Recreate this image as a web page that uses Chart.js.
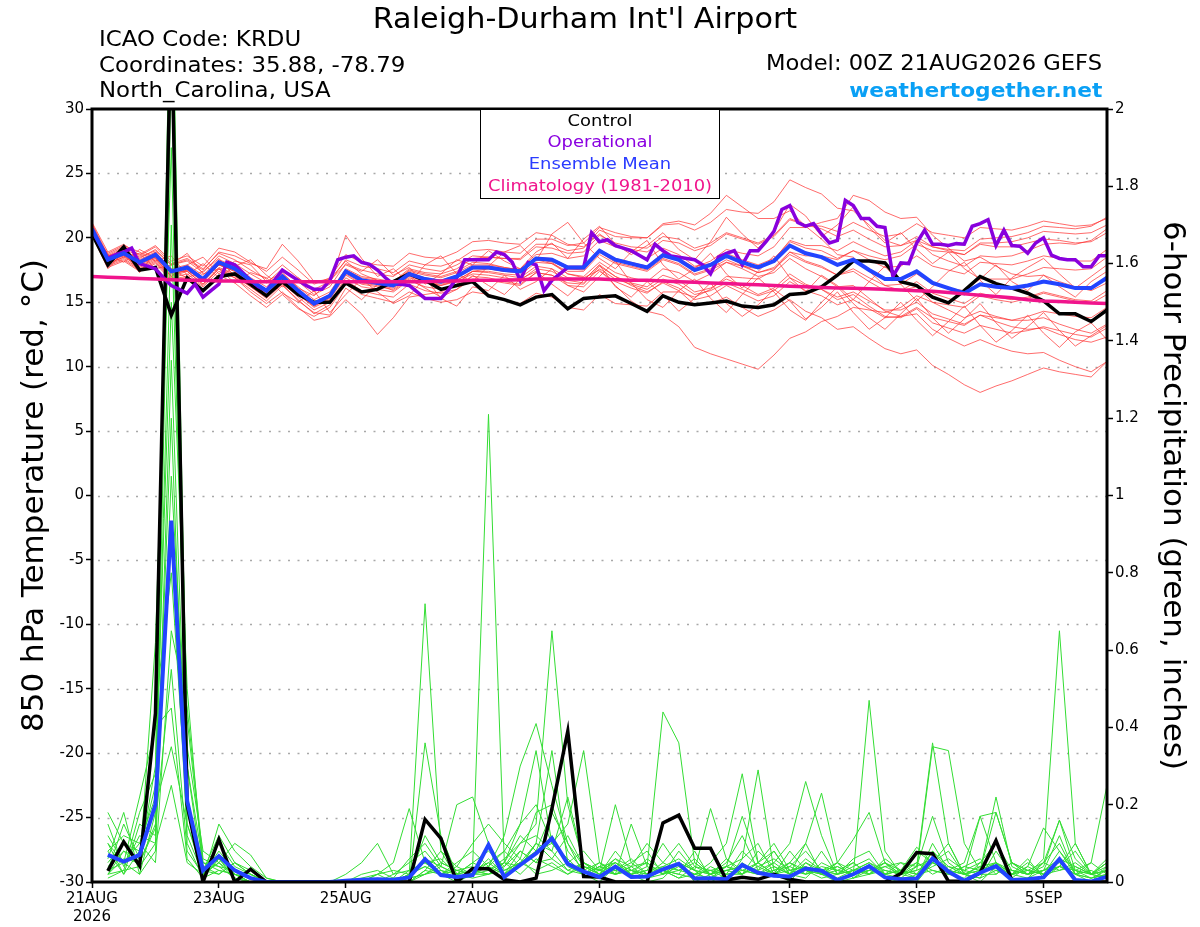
<!DOCTYPE html>
<html>
<head>
<meta charset="utf-8">
<script src="https://cdn.jsdelivr.net/npm/chart.js@4.4.1/dist/chart.umd.min.js"></script>
<style>
html,body{margin:0;padding:0;background:#fff;}
#wrap{position:relative;width:1200px;height:927px;overflow:hidden;}
#c{position:absolute;left:0;top:0;}
.t{position:absolute;font-family:'DejaVu Sans',sans-serif;line-height:1;white-space:nowrap;color:#000;}
#title{left:585px;top:5px;font-size:28px;transform:translateX(-50%) scaleX(1.08);}
.info{left:99px;font-size:21px;transform-origin:left center;transform:scaleX(1.09);}
#model{right:98px;top:53px;font-size:21px;transform-origin:right center;transform:scaleX(1.077);}
#site{right:98px;top:80px;font-size:20px;font-weight:bold;color:#0aa0f5;transform-origin:right center;transform:scaleX(1.085);}
#leg{position:absolute;left:480px;top:109px;width:240px;height:90px;border:1.5px solid #000;background:#fff;box-sizing:border-box;}
#leg div{position:absolute;left:0;width:100%;text-align:center;font-family:'DejaVu Sans',sans-serif;font-size:16px;line-height:1;white-space:nowrap;transform:scaleX(1.12);}
</style>
</head>
<body>
<div id="wrap">
<canvas id="c" width="1200" height="927"></canvas>
<div class="t" id="title">Raleigh-Durham Int'l Airport</div>
<div class="t info" style="top:29px">ICAO Code: KRDU</div>
<div class="t info" style="top:55px">Coordinates: 35.88, -78.79</div>
<div class="t info" style="top:80px">North_Carolina, USA</div>
<div class="t" id="model">Model: 00Z 21AUG2026 GEFS</div>
<div class="t" id="site">weathertogether.net</div>
<div id="leg">
  <div style="top:3px;color:#000">Control</div>
  <div style="top:24px;color:#8a00e0">Operational</div>
  <div style="top:45.5px;color:#2a3cff">Ensemble Mean</div>
  <div style="top:68px;color:#f0148c">Climatology (1981-2010)</div>
</div>
</div>
<script>
// ---------- tick labels ----------
const tickHours = [0, 48, 96, 144, 192, 264, 312, 360];
const tickLabels = [['21AUG','2026'], '23AUG', '25AUG', '27AUG', '29AUG', '1SEP', '3SEP', '5SEP'];

// ---------- 850 hPa temperature (6-hourly, 00Z 21AUG .. 00Z 6SEP) ----------
const controlTemp = [
20.3,17.9,19.3,17.5,17.7,14.0,16.9,15.9,17.0,17.2,
16.4,15.5,16.6,15.6,15.0,15.0,16.5,15.8,16.0,16.6,
17.2,16.7,16.0,16.3,16.6,15.5,15.2,14.8,15.4,15.6,
14.5,15.3,15.4,15.5,14.9,14.3,15.5,15.0,14.8,14.95,
15.1,14.7,14.6,14.8,15.6,15.7,16.2,17.1,18.2,18.2,
18.05,16.6,16.3,15.4,14.95,15.9,17.0,16.45,16.1,15.7,
15.1,14.1,14.1,13.5,14.4];
const meanTemp = [
20.7,18.3,18.8,18.1,18.7,17.4,17.7,16.8,18.1,17.6,
16.7,15.9,17.0,15.9,14.9,15.5,17.4,16.7,16.5,16.3,
17.2,16.8,16.6,17.0,17.7,17.7,17.5,17.4,18.4,18.3,
17.7,17.7,19.0,18.3,18.0,17.7,18.65,18.3,17.5,17.9,
18.6,18.1,17.7,18.2,19.4,18.8,18.5,17.9,18.3,17.5,
16.8,16.8,17.4,16.5,16.1,15.7,16.4,16.2,16.1,16.3,
16.6,16.4,16.1,16.1,16.9];
const climoTemp = [
17.0,16.95,16.9,16.85,16.8,16.75,16.7,16.7,16.65,16.65,
16.6,16.6,16.6,16.6,16.6,16.6,16.6,16.6,16.6,16.6,
16.6,16.6,16.65,16.65,16.7,16.7,16.7,16.75,16.8,16.8,
16.8,16.8,16.8,16.75,16.7,16.7,16.65,16.6,16.55,16.5,
16.45,16.4,16.35,16.3,16.25,16.2,16.15,16.1,16.08,16.05,
16.0,15.95,15.9,15.85,15.75,15.65,15.55,15.45,15.35,15.2,
15.1,15.05,15.0,14.95,14.9];
// operational run, 3-hourly
const operTemp = [
20.6,19.5,18.4,18.7,18.9,19.2,18.0,17.8,17.6,16.9,
16.3,16.0,15.7,16.4,15.4,15.9,16.4,18.1,17.9,17.3,
16.7,16.2,15.9,16.7,17.5,17.1,16.7,16.3,16.0,16.0,
16.7,18.3,18.5,18.6,18.1,17.95,17.5,16.9,16.4,16.4,
16.3,15.8,15.3,15.3,15.3,16.0,16.9,18.3,18.3,18.3,
18.3,18.9,18.7,18.1,16.7,18.1,17.9,15.9,16.7,17.2,
17.7,17.7,17.7,20.4,
19.7,19.85,19.4,19.2,19.0,18.65,18.3,19.5,19.0,18.6,
18.5,18.4,18.3,17.9,17.2,18.5,18.8,19.0,17.9,19.0,
19.0,19.7,20.5,22.2,22.5,21.2,20.9,21.1,20.3,19.6,
19.8,22.9,22.5,21.5,21.5,20.9,20.8,17.0,18.05,18.0,
19.6,20.6,19.5,19.5,19.4,19.55,19.5,20.9,21.1,21.4,
19.4,20.6,19.4,19.35,18.8,19.6,20.0,18.65,18.4,18.3,
18.3,17.75,17.75,18.6,18.6];

// ensemble members (temperature)
const memTemp01 = [20.9,18.6,19.2,18.5,19.0,17.9,18.2,17.3,18.6,18.0,17.2,16.5,17.6,16.6,15.6,16.2,18.0,17.5,17.2,17.0,17.9,17.6,17.4,17.9,18.6,18.5,18.4,18.3,19.3,19.2,18.8,18.9,20.2,19.6,19.3,19.2,20.1,19.9,19.2,19.6,20.4,20.0,19.6,20.2,21.5,21.0,20.7,20.1,20.6,19.9,19.3,19.4,20.1,19.3,19.0,18.7,19.5,19.3,19.3,19.6,19.9,19.8,19.6,19.7,20.4];
const memTemp02 = [20.3,17.8,18.3,17.5,18.1,16.8,17.0,16.2,17.4,16.9,16.0,15.1,16.3,15.2,14.1,14.8,16.7,15.9,15.6,15.4,16.4,15.9,15.7,16.0,16.8,16.7,16.5,16.3,17.3,17.1,16.5,16.4,17.8,17.0,16.5,16.2,17.1,16.7,15.8,16.1,16.8,16.3,15.6,16.1,17.2,16.4,16.0,15.2,15.6,14.7,13.9,13.8,14.5,13.4,13.0,12.6,13.2,12.9,12.6,12.8,13.1,12.8,12.5,12.3,13.0];
const memTemp03 = [21.2,18.9,19.5,18.6,19.3,18.0,18.4,17.6,18.8,18.3,17.5,16.8,17.9,16.9,16.0,16.6,18.3,17.8,17.6,17.3,18.2,17.9,17.8,18.2,19.0,19.1,18.9,18.8,19.9,19.9,19.4,19.6,20.8,20.4,20.1,20.0,21.0,21.1,20.6,21.2,22.2,22.0,21.9,22.8,24.5,23.9,23.4,22.3,22.1,21.0,19.8,19.4,19.8,18.7,18.2,17.8,18.6,18.5,18.6,19.0,19.5,19.6,19.5,19.8,20.7];
const memTemp04 = [20.5,18.1,18.6,17.9,18.5,17.2,17.5,16.6,17.9,17.4,16.5,15.7,16.8,15.7,14.7,15.3,17.2,16.5,16.3,16.1,17.0,16.6,16.4,16.7,17.4,17.3,17.1,16.9,17.8,17.6,16.9,16.7,17.9,17.0,16.3,15.8,16.5,15.9,14.8,14.9,15.4,14.6,13.9,14.4,15.2,14.3,13.8,12.9,13.1,12.2,11.4,11.0,11.3,10.1,9.4,8.6,8.0,8.5,8.9,9.4,9.9,9.6,9.4,9.2,10.4];
const memTemp05 = [20.8,18.4,18.9,18.3,18.9,17.6,17.9,17.1,18.3,17.8,16.9,16.2,17.2,16.2,15.2,15.8,17.6,17.0,16.8,16.6,17.4,17.1,16.9,17.3,17.9,17.9,17.7,17.5,18.4,18.1,17.2,16.9,17.5,16.3,15.1,14.3,14.0,13.1,11.5,11.0,10.6,10.2,9.8,10.9,12.2,12.7,13.5,13.9,14.6,14.4,14.2,14.6,15.5,15.0,14.8,14.6,15.5,15.2,15.0,15.3,15.7,15.4,15.1,14.9,15.6];
const memTemp06 = [20.6,18.2,18.7,18.0,18.6,17.3,17.4,16.4,17.6,16.9,15.8,14.9,15.8,14.6,13.6,13.9,15.2,14.1,12.5,13.8,15.4,15.6,15.8,16.4,17.4,17.6,17.6,17.6,18.7,18.8,18.4,18.6,19.8,19.3,19.1,18.9,19.8,19.6,19.0,19.4,20.3,19.9,19.5,20.1,21.4,21.0,20.9,20.5,21.2,20.6,20.1,20.3,21.1,20.4,20.2,20.0,20.8,20.7,20.6,20.9,21.3,21.1,20.9,21.0,21.5];
const memTemp07 = [21.0,18.5,19.0,18.4,19.1,17.9,18.3,17.5,18.9,18.6,18.0,17.6,19.5,18.2,16.6,16.8,18.2,17.2,16.7,16.4,17.1,16.6,16.3,16.6,17.2,17.1,16.9,16.7,17.6,17.4,16.7,16.5,17.6,16.8,16.4,16.0,16.8,16.4,15.6,15.9,16.5,16.0,15.5,15.9,16.9,16.3,16.0,15.4,15.8,15.1,14.4,14.4,15.0,14.1,13.7,13.3,14.0,13.8,13.6,13.9,14.3,14.1,13.9,13.8,14.6];
const memTemp08 = [20.4,18.0,18.5,17.8,18.4,17.1,17.5,16.7,17.9,17.5,16.6,15.8,16.9,15.9,14.9,15.6,17.5,16.9,16.7,16.6,17.6,17.3,17.2,17.6,18.4,18.5,18.4,18.4,19.5,19.5,19.0,19.2,20.6,20.1,20.0,20.0,21.1,21.3,21.0,21.9,23.3,22.4,21.5,21.5,22.1,20.9,19.9,18.7,18.5,17.4,16.3,15.9,16.2,15.0,14.4,13.8,14.3,13.9,13.6,13.6,13.8,13.3,12.9,12.6,13.3];
const memTemp09 = [20.7,18.4,18.9,18.2,18.8,17.5,17.8,16.9,18.2,17.7,16.8,16.0,17.1,16.0,15.0,15.6,17.5,16.8,16.6,16.4,17.3,16.9,16.7,17.1,17.8,17.8,17.6,17.5,18.5,18.4,17.8,17.8,19.1,18.4,18.1,17.8,18.8,18.4,17.6,18.0,18.8,18.3,17.9,18.4,19.7,19.2,19.0,18.4,19.0,18.3,17.7,17.8,18.6,17.8,17.5,17.2,18.1,18.0,17.9,18.2,18.6,18.4,18.2,18.2,19.1];
const memTemp10 = [20.2,17.7,18.2,17.4,18.0,16.7,16.9,15.9,17.1,16.5,15.5,14.6,15.6,14.5,13.9,14.6,16.4,15.6,15.3,15.0,15.8,15.3,15.0,15.2,15.8,15.6,15.2,14.9,15.7,15.4,14.6,14.4,15.6,14.9,14.8,14.7,15.8,15.8,15.4,16.0,17.0,16.9,16.8,17.5,18.9,18.6,18.6,18.3,19.0,18.6,18.3,18.6,19.5,19.0,18.9,18.7,19.6,19.6,19.7,20.0,20.5,20.4,20.3,20.4,21.0];
const memTemp11 = [20.9,18.6,19.0,18.2,18.7,17.4,17.6,16.8,18.0,17.5,16.6,15.8,16.9,15.8,14.8,15.4,17.3,16.6,16.4,16.2,17.1,16.7,16.5,16.9,17.6,17.6,17.4,17.3,18.3,18.2,17.6,17.6,18.9,18.3,18.0,17.7,18.7,18.4,17.7,18.2,19.1,18.8,18.6,19.3,20.8,20.8,21.2,21.5,23.3,22.9,22.0,21.5,21.6,20.2,19.2,18.2,18.5,17.8,17.2,17.0,17.1,16.6,16.2,15.9,16.5];
const memTemp12 = [20.5,18.2,18.7,18.0,18.5,17.3,17.6,16.6,17.9,17.4,16.4,15.6,16.7,15.6,14.6,15.2,17.1,16.4,16.2,16.0,16.9,16.5,16.3,16.7,17.4,17.4,17.2,17.1,18.1,18.0,17.4,17.4,18.7,18.0,17.7,17.4,18.3,17.9,17.1,17.5,18.1,17.6,17.0,17.3,18.4,17.6,17.0,16.2,16.3,15.3,14.3,13.9,14.1,12.9,12.2,11.6,12.1,11.6,11.2,11.0,11.1,10.5,10.0,9.6,10.4];
const memTemp13 = [21.1,18.7,19.3,18.7,19.4,18.2,18.6,17.8,19.2,18.9,18.1,17.4,18.5,17.5,16.4,16.9,18.7,18.1,17.9,17.8,18.8,18.5,18.4,18.9,19.7,19.8,19.6,19.5,20.4,20.2,19.5,19.3,20.3,19.4,18.9,18.4,19.2,18.7,17.8,18.0,18.6,17.9,17.3,17.6,18.7,18.1,17.7,17.1,17.6,16.9,16.3,16.4,17.2,16.4,16.1,15.9,16.8,16.8,16.8,17.2,17.7,17.6,17.5,17.6,18.5];
const memTemp14 = [20.3,17.9,18.4,17.6,18.2,16.9,17.2,16.3,17.6,17.1,16.2,15.4,16.5,15.4,14.4,15.0,16.9,16.2,16.0,15.8,16.7,16.2,16.0,16.3,17.0,16.9,16.6,16.4,17.3,17.1,16.3,16.2,17.4,16.6,16.1,15.7,16.6,16.1,15.2,15.5,16.3,15.7,15.1,15.5,16.6,15.9,15.5,14.8,15.2,14.5,13.8,13.9,14.6,13.8,13.5,13.2,14.0,13.5,13.1,12.9,13.0,12.5,12.1,11.9,12.3];
const memTemp15 = [20.8,18.3,18.6,17.7,18.3,17.0,17.4,16.4,17.7,17.2,16.3,15.5,16.6,15.6,14.7,15.4,17.3,16.7,16.6,16.5,17.5,17.2,17.0,17.4,18.1,18.0,17.7,17.5,18.3,18.0,17.2,17.0,18.1,17.3,16.9,16.6,17.6,17.3,16.6,17.2,18.1,17.8,17.6,18.3,19.8,19.4,19.4,19.0,19.7,19.1,18.6,18.9,19.8,19.3,19.1,19.0,19.9,20.0,20.1,20.4,20.9,20.8,20.7,20.9,21.6];
const memTemp16 = [20.6,18.1,18.8,18.1,18.7,17.4,17.7,16.8,18.1,17.6,16.6,15.9,17.0,15.9,15.0,15.5,17.4,16.7,16.5,16.3,17.2,16.8,16.6,16.9,17.6,17.6,17.4,17.3,18.3,18.2,17.6,17.5,18.9,18.1,17.8,17.5,18.4,18.0,17.2,17.6,18.3,17.8,17.3,17.7,18.9,18.2,17.8,17.1,17.4,16.6,15.9,15.9,16.6,15.7,15.3,14.9,15.7,15.4,15.2,15.4,15.8,15.5,15.2,15.1,15.9];
const memTemp17 = [20.4,18.8,19.4,18.9,18.2,18.6,17.1,18.0,16.9,17.8,18.3,17.1,16.2,16.9,15.8,16.4,20.2,18.4,17.0,17.6,16.5,17.9,18.6,17.2,16.6,17.8,18.9,19.4,18.2,20.3,21.2,19.6,18.4,17.6,18.9,19.8,17.9,16.8,17.6,18.8,17.2,16.1,17.4,18.6,16.9,15.8,17.1,16.3,15.2,16.6,17.8,16.4,15.1,16.2,17.4,18.1,16.7,15.6,16.9,17.7,18.4,17.2,16.1,17.0,17.9];
const memTemp18 = [21.0,18.0,18.5,18.8,17.6,17.9,18.8,17.2,17.6,16.5,17.3,16.9,15.7,15.0,15.9,14.2,15.6,16.8,15.8,14.9,15.5,16.9,15.3,14.7,16.2,15.9,17.1,16.0,16.6,17.6,16.3,15.8,17.0,18.2,16.5,15.2,14.6,15.9,16.8,15.3,14.2,15.6,16.9,15.8,14.4,13.6,15.0,16.2,14.9,13.8,12.9,14.1,15.3,13.8,12.6,13.7,14.9,13.4,12.2,13.1,14.2,12.8,11.6,12.4,13.2];
const memTemp19 = [20.6,18.7,18.1,19.1,18.4,17.0,17.9,18.5,17.2,18.2,17.9,16.6,17.3,16.1,15.5,16.7,17.9,17.4,18.3,17.1,17.7,16.4,17.2,18.3,17.9,19.0,18.2,17.6,18.9,19.6,18.4,19.9,20.9,19.5,18.7,19.4,20.4,19.1,18.3,19.7,21.6,20.3,19.2,20.5,22.6,21.7,20.1,21.0,22.4,20.8,19.6,20.4,19.1,18.0,18.9,17.6,16.8,17.9,16.6,15.9,17.1,16.2,15.4,16.6,17.4];
const memTemp20 = [20.2,17.6,18.9,17.3,18.9,17.5,16.9,17.4,18.4,17.0,16.2,15.3,16.4,15.1,14.2,14.0,16.1,15.2,16.4,15.9,16.8,16.1,15.4,16.0,17.1,16.3,15.6,16.8,17.4,16.4,15.5,16.7,17.9,16.2,15.4,16.6,15.6,14.3,15.3,16.5,14.9,13.9,14.8,16.0,15.1,13.7,14.6,15.8,14.2,12.9,13.8,15.0,13.6,12.4,13.5,14.7,13.2,11.9,12.8,14.0,12.6,11.5,12.7,13.4,12.1];

// ---------- 6-hour precipitation (inches), 06Z 21AUG .. 00Z 6SEP ----------
const controlPrecip = [
0.029,0.104,0.042,0.436,2.25,0.20,0,0.11,0,0.033,
0,0,0,0,0,0,0,0,0,0,
0.162,0.113,0,0.035,0.034,0.006,0,0.01,0.19,0.39,
0.014,0.013,0,0,0,0.153,0.173,0.087,0.087,0.005,
0.012,0.007,0.02,0.007,0,0,0,0,0,0,
0.022,0.076,0.073,0.002,0.002,0.024,0.107,0.005,0,0,
0,0,0,0];
const meanPrecip = [
0.07,0.053,0.07,0.20,0.935,0.21,0.03,0.067,0.03,0.01,
0,0,0,0,0,0.003,0.006,0.007,0.006,0.012,
0.059,0.018,0.013,0.018,0.096,0.013,0.044,0.074,0.113,0.047,
0.027,0.013,0.04,0.013,0.014,0.033,0.047,0.009,0.01,0.007,
0.044,0.024,0.016,0.014,0.035,0.029,0.005,0.02,0.041,0.012,
0.007,0.009,0.061,0.027,0.003,0.024,0.041,0.005,0.007,0.012,
0.059,0.005,0.001,0.014];
const memPrecip01 = [0.03,0.15,0.06,0.3,2.5,0.3,0.01,0.06, 0.02,0.01,0,0,0,0,0,0, 0,0,0,0.02,0.72,0.08,0.01,0.03, 0.05,0.02,0.08,0.05,0.12,0.04,0.02,0, 0.04,0.02,0,0.01,0.05,0,0.02,0, 0.06,0.29,0.03,0,0.05,0.02,0,0.01, 0.04,0.01,0,0.02,0.08,0.03,0,0.02, 0.05,0,0.01,0.03,0.12,0.02,0,0.04];
const memPrecip02 = [0.12,0.05,0.1,0.22,2.3,0.15,0.02,0.1, 0.04,0.02,0,0,0,0,0,0, 0,0,0,0,0.36,0.12,0.02,0.05, 0.03,0.06,0.1,0.12,0.08,0.22,0.05,0.02, 0.06,0.04,0.01,0.03,0.02,0.08,0.01,0.04, 0.02,0.05,0.08,0.02,0.03,0.01,0.02,0.06, 0.08,0.02,0.01,0,0.05,0.1,0.02,0, 0.04,0.02,0.06,0.01,0.04,0.1,0.02,0.06];
const memPrecip03 = [0.08,0.02,0.15,0.12,2.1,0.42,0.05,0.04, 0.01,0,0,0,0,0,0,0, 0,0.02,0.05,0.19,0.05,0.02,0,0.02, 0.04,0.08,0.15,0.2,0.1,0.05,0.08,0.03, 0.02,0.15,0.04,0.02,0.08,0.03,0,0.02, 0.08,0.04,0.02,0.05,0.1,0.02,0.01,0.03, 0.02,0.05,0.02,0.01,0.1,0.03,0.02,0.01, 0.08,0.02,0.01,0.05,0.16,0.03,0.01,0.02];
const memPrecip04 = [0.02,0.08,0.04,0.62,1.9,0.22,0.03,0.12, 0.05,0.02,0,0,0,0,0,0.02, 0.05,0.1,0.02,0.03,0.05,0.06,0.02,0.03, 0.02,0.05,0.12,0.08,0.18,0.1,0.02,0.04, 0.05,0.02,0.06,0.03,0.01,0.02,0.05,0.1, 0.28,0.05,0.02,0.08,0.03,0.02,0.05,0.01, 0.03,0.05,0.01,0.04,0.06,0.02,0.01,0.05, 0.1,0.03,0.02,0.03,0.05,0.02,0.01,0.03];
const memPrecip05 = [0.1,0.05,0.02,0.18,1.7,0.35,0.08,0.05, 0.02,0,0,0,0,0,0,0, 0.02,0.03,0.01,0.06,0.1,0.04,0.2,0.22, 0.1,0.03,0.05,0.1,0.06,0.12,0.04,0.02, 0.08,0.03,0.02,0.05,0.1,0.04,0.02,0.06, 0.03,0.02,0.05,0.1,0.26,0.12,0.02,0.04, 0.06,0.02,0.03,0.01,0.08,0.04,0.02,0.01, 0.03,0.01,0.04,0.02,0.08,0.02,0.01,0.02];
const memPrecip06 = [0.05,0.1,0.08,0.25,1.5,0.5,0.02,0.08, 0.03,0.01,0,0,0,0,0,0, 0,0,0.01,0.01,0.12,0.05,0.03,0.04, 1.21,0.05,0.04,0.1,0.08,0.03,0.05,0.02, 0.03,0.06,0.02,0.03,0.02,0.01,0.04,0.02, 0.02,0.08,0.04,0.02,0.1,0.23,0.05,0.01, 0.02,0.04,0.02,0.05,0.03,0.02,0.04,0.06, 0.02,0.05,0.02,0.03,0.06,0.04,0.02,0.05];
const memPrecip07 = [0.15,0.04,0.12,0.1,1.35,0.2,0.04,0.02, 0.05,0.03,0,0,0,0,0,0, 0,0,0,0,0.03,0.08,0.04,0.1, 0.15,0.1,0.06,0.18,0.2,0.08,0.03,0.05, 0.02,0.04,0.1,0.05,0.03,0.02,0.01,0.03, 0.04,0.03,0.08,0.02,0.01,0.05,0.03,0.02, 0.47,0.08,0.02,0.03,0.05,0.08,0.02,0.03, 0.22,0.04,0.02,0.05,0.1,0.02,0.03,0.01];
const memPrecip08 = [0.02,0.06,0.05,0.14,1.2,0.1,0.01,0.15, 0.08,0.04,0.01,0,0,0,0,0, 0,0.01,0,0.02,0.04,0.02,0.05,0.08, 0.04,0.12,0.3,0.41,0.25,0.1,0.04,0.02, 0.05,0.02,0.03,0.1,0.04,0.02,0.03,0.01, 0.05,0.02,0.03,0.04,0.02,0.08,0.02,0.03, 0.05,0.03,0.02,0.08,0.05,0.03,0.02,0.04, 0.03,0.02,0.05,0.02,0.04,0.08,0.02,0.01];
const memPrecip09 = [0.06,0.18,0.02,0.08,1.05,0.3,0.05,0.03, 0.02,0.01,0,0,0,0,0,0, 0,0,0.02,0.05,0.08,0.03,0.02,0.01, 0.02,0.05,0.15,0.34,0.1,0.06,0.02,0.05, 0.03,0.05,0.08,0.02,0.05,0.03,0.02,0.05, 0.12,0.03,0.05,0.02,0.06,0.03,0.05,0.11, 0.18,0.05,0.03,0.02,0.05,0.03,0.05,0.17, 0.18,0.05,0.02,0.03,0.04,0.02,0.05,0.02];
const memPrecip10 = [0.01,0.03,0.18,0.28,0.9,0.12,0.02,0.05, 0.01,0,0,0,0,0,0,0, 0.01,0.02,0.03,0.02,0.06,0.04,0.02,0.05, 0.08,0.04,0.1,0.15,0.65,0.2,0.05,0.03, 0.02,0.03,0.01,0.02,0.05,0.03,0.02,0.04, 0.06,0.1,0.02,0.05,0.03,0.02,0.04,0.02, 0.03,0.02,0.05,0.04,0.36,0.1,0.02,0.04, 0.05,0.02,0.04,0.14,0.08,0.03,0.02,0.05];
const memPrecip11 = [0.04,0.08,0.06,0.45,0.8,0.18,0.03,0.07, 0.02,0,0,0,0,0,0,0, 0,0,0,0.03,0.05,0.02,0.03,0.02, 0.05,0.08,0.04,0.1,0.34,0.05,0.02,0.03, 0.06,0.02,0.03,0.04,0.03,0.05,0.02,0.03, 0.02,0.04,0.06,0.03,0.02,0.04,0.03,0.02, 0.03,0.05,0.02,0.03,0.35,0.34,0.1,0.03, 0.05,0.02,0.03,0.02,0.03,0.05,0.02,0.01];
const memPrecip12 = [0.08,0.12,0.1,0.05,0.65,0.45,0.06,0.04, 0.03,0.02,0,0,0,0,0,0, 0,0,0,0.01,0.02,0.05,0.03,0.02, 0.02,0.03,0.05,0.08,0.1,0.15,0.34,0.05, 0.02,0.04,0.05,0.02,0.03,0.06,0.02,0.04, 0.03,0.05,0.02,0.04,0.08,0.03,0.02,0.05, 0.02,0.03,0.02,0.04,0.17,0.05,0.02,0.03, 0.04,0.02,0.03,0.05,0.03,0.04,0.02,0.03];
const memPrecip13 = [0.18,0.1,0.05,0.15,0.55,0.08,0.02,0.06, 0.01,0,0,0,0,0,0,0, 0,0,0,0,0.02,0.03,0.01,0.02, 0.03,0.05,0.02,0.06,0.04,0.02,0.05,0.03, 0.2,0.05,0.02,0.03,0.01,0.04,0.03,0.02, 0.03,0.02,0.04,0.02,0.05,0.03,0.02,0.03, 0.05,0.02,0.03,0.02,0.04,0.06,0.03,0.05, 0.04,0.03,0.02,0.06,0.65,0.1,0.02,0.05];
const memPrecip14 = [0.03,0.05,0.22,0.4,0.45,0.06,0.01,0.03, 0.02,0,0,0,0,0,0,0, 0,0.02,0,0.02,0.04,0.02,0.01,0.03, 0.02,0.04,0.08,0.05,0.06,0.03,0.02,0.04, 0.03,0.02,0.04,0.44,0.36,0.05,0.02,0.03, 0.04,0.02,0.03,0.05,0.02,0.03,0.04,0.02, 0.03,0.04,0.05,0.02,0.03,0.02,0.04,0.03, 0.18,0.05,0.03,0.02,0.04,0.03,0.02,0.04];
const memPrecip15 = [0.1,0.02,0.08,0.2,0.35,0.15,0.03,0.02, 0.05,0.02,0,0,0,0,0,0, 0,0,0,0,0.03,0.02,0.04,0.02, 0.06,0.02,0.05,0.03,0.05,0.02,0.04,0.03, 0.05,0.03,0.02,0.04,0.06,0.03,0.19,0.06, 0.02,0.05,0.1,0.03,0.04,0.02,0.03,0.05, 0.02,0.06,0.03,0.09,0.05,0.03,0.02,0.17, 0.05,0.03,0.02,0.04,0.16,0.06,0.02,0.03];
const memPrecip16 = [0.02,0.03,0.04,0.1,0.25,0.05,0.02,0.05, 0.1,0.07,0.01,0,0,0,0,0, 0,0,0,0.01,0.02,0.04,0.02,0.03, 0.04,0.02,0.06,0.02,0.03,0.05,0.02,0.04, 0.02,0.03,0.05,0.02,0.04,0.02,0.03,0.04, 0.17,0.05,0.02,0.03,0.04,0.02,0.05,0.03, 0.04,0.02,0.03,0.05,0.02,0.04,0.03,0.02, 0.02,0.05,0.03,0.02,0.04,0.03,0.05,0.25];

const memberTemps = [memTemp01,memTemp02,memTemp03,memTemp04,memTemp05,memTemp06,memTemp07,memTemp08,memTemp09,memTemp10,memTemp11,memTemp12,memTemp13,memTemp14,memTemp15,memTemp16,memTemp17,memTemp18,memTemp19,memTemp20];
const memberPrecips = [memPrecip01,memPrecip02,memPrecip03,memPrecip04,memPrecip05,memPrecip06,memPrecip07,memPrecip08,memPrecip09,memPrecip10,memPrecip11,memPrecip12,memPrecip13,memPrecip14,memPrecip15,memPrecip16];

// ---------- build series (x = forecast hour) ----------
const tempPts = arr => arr.map((v, i) => ({x: i * 6, y: v}));
const opPts = arr => arr.map((v, j) => ({x: j * 3, y: v}));
const precipPts = arr => arr.map((v, k) => ({x: (k + 1) * 6, y: v}));

const base = {pointRadius: 0, pointHoverRadius: 0, tension: 0, fill: false};
const datasets = [];
memberTemps.forEach(m => datasets.push(Object.assign({}, base, {data: tempPts(m), yAxisID: 'y', borderColor: 'rgba(255,50,50,0.72)', borderWidth: 1, order: 10})));
memberPrecips.forEach(m => datasets.push(Object.assign({}, base, {data: precipPts(m), yAxisID: 'y1', borderColor: '#33dd33', borderWidth: 1, order: 9})));
datasets.push(Object.assign({}, base, {data: precipPts(controlPrecip), yAxisID: 'y1', borderColor: '#000', borderWidth: 3.5, order: 3}));
datasets.push(Object.assign({}, base, {data: precipPts(meanPrecip), yAxisID: 'y1', borderColor: '#2244ff', borderWidth: 4, order: 1}));
datasets.push(Object.assign({}, base, {data: tempPts(controlTemp), yAxisID: 'y', borderColor: '#000', borderWidth: 3.5, order: 3}));
datasets.push(Object.assign({}, base, {data: opPts(operTemp), yAxisID: 'y', borderColor: '#8800dd', borderWidth: 3.5, order: 2}));
datasets.push(Object.assign({}, base, {data: tempPts(meanTemp), yAxisID: 'y', borderColor: '#2244ff', borderWidth: 4, order: 1}));
datasets.push(Object.assign({}, base, {data: tempPts(climoTemp), yAxisID: 'y', borderColor: '#f0148c', borderWidth: 3.5, order: 0}));

Chart.defaults.font.family = "'DejaVu Sans', sans-serif";
Chart.defaults.color = '#000';

const gridPlugin = {
  id: 'tempGrid',
  beforeDatasetsDraw(chart) {
    const {ctx, chartArea: a, scales: {y}} = chart;
    ctx.save();
    ctx.strokeStyle = '#a8a8a8';
    ctx.lineWidth = 1.5;
    ctx.setLineDash([2, 7.5]);
    for (let v = -25; v <= 25; v += 5) {
      const py = Math.round(y.getPixelForValue(v)) + 0.5;
      ctx.beginPath(); ctx.moveTo(a.left + 6, py); ctx.lineTo(a.right, py); ctx.stroke();
    }
    ctx.restore();
  }
};
const framePlugin = {
  id: 'frame',
  afterDatasetsDraw(chart) {
    const {ctx, chartArea: a} = chart;
    ctx.save();
    ctx.strokeStyle = '#000';
    ctx.lineWidth = 3;
    ctx.strokeRect(a.left, a.top, a.right - a.left, a.bottom - a.top);
    ctx.restore();
  }
};

new Chart(document.getElementById('c'), {
  type: 'line',
  data: {datasets},
  plugins: [gridPlugin, framePlugin],
  options: {
    responsive: false,
    devicePixelRatio: 1,
    animation: false,
    events: [],
    layout: {padding: {top: 109, left: 0, right: 0, bottom: 0}},
    plugins: {legend: {display: false}, tooltip: {enabled: false}, title: {display: false}},
    scales: {
      x: {
        type: 'linear', min: 0, max: 384,
        afterFit(s) { s.height = 45; },
        afterBuildTicks(s) { s.ticks = tickHours.map(v => ({value: v})); },
        ticks: {
          autoSkip: false, maxRotation: 0, minRotation: 0, padding: 2,
          font: {size: 15},
          callback: v => { const k = tickHours.indexOf(v); return k >= 0 ? tickLabels[k] : ''; }
        },
        grid: {drawOnChartArea: false, drawTicks: true, tickLength: 6, tickColor: '#000', tickWidth: 1.5},
        border: {display: false}
      },
      y: {
        type: 'linear', position: 'left', min: -30, max: 30,
        afterFit(s) { s.width = 92; },
        ticks: {stepSize: 5, font: {size: 15}, padding: 2},
        grid: {drawOnChartArea: false, drawTicks: true, tickLength: 6, tickColor: '#000', tickWidth: 1.5},
        border: {display: false},
        title: {display: true, text: '850 hPa Temperature (red, °C)', font: {size: 31}, padding: {top: 16, bottom: 0}}
      },
      y1: {
        type: 'linear', position: 'right', min: 0, max: 2,
        afterFit(s) { s.width = 93; },
        ticks: {stepSize: 0.2, font: {size: 15}, padding: 2, callback: v => String(Math.round(v * 10) / 10)},
        grid: {drawOnChartArea: false, drawTicks: true, tickLength: 6, tickColor: '#000', tickWidth: 1.5},
        border: {display: false},
        title: {display: true, text: '6-hour Precipitation (green, inches)', font: {size: 31}, padding: {top: 9, bottom: 0}}
      }
    }
  }
});
</script>
</body>
</html>
